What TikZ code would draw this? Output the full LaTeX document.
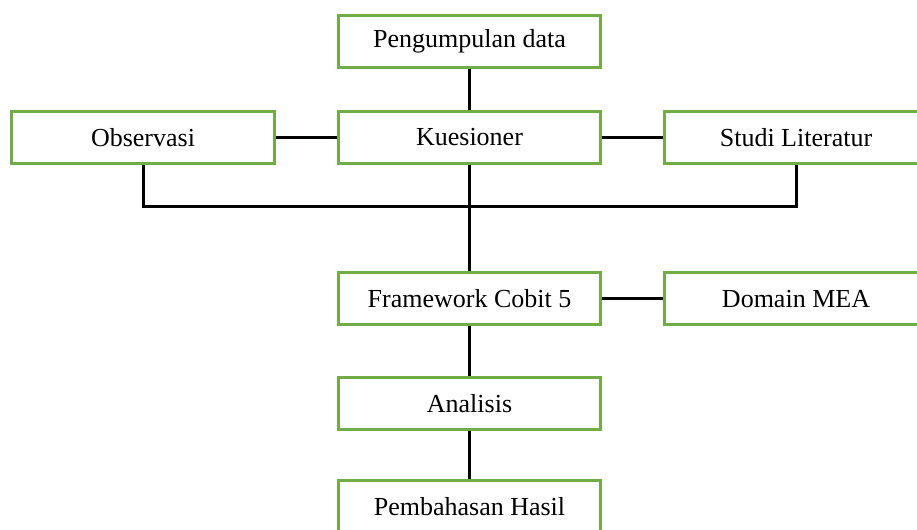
\documentclass[tikz,border=0pt]{standalone}
\usepackage{fontspec}
\setmainfont{Liberation Serif}
\usepackage{tikz}
\usepackage{xcolor}
\usetikzlibrary{calc, positioning}
\definecolor{kotakhijau}{RGB}{112,173,71}
\tikzset{
    kotak/.style={draw=kotakhijau, line width=2.25pt, minimum width=197pt, minimum height=39pt, inner sep=0pt, font=\fontsize{19.5}{23}\selectfont},
    garis/.style={line width=2.25pt, black}
}
\newcommand{\kotak}[4]{
    \node[kotak] (#1) at (#2, #3) {#4};
}

\begin{document}
\begin{tikzpicture}[x=0.75pt, y=-0.75pt]
                    \useasboundingbox (0, 0) rectangle (917, 530);
                    \clip (0, 0) rectangle (917, 530);
                    \kotak{pengumpulan}{469.5}{41.5}{Pengumpulan data}
                    \kotak{observasi}{143}{137.5}{Observasi}
                    \kotak{kuesioner}{469.5}{137.5}{Kuesioner}
                    \kotak{studi}{796}{137.5}{Studi Literatur}
                    \kotak{framework}{469.5}{299}{Framework Cobit 5}
                    \kotak{domain}{796}{299}{Domain MEA}
                    \kotak{analisis}{469.5}{403.5}{Analisis}
                    \kotak{pembahasan}{469.5}{507}{Pembahasan Hasil}
                    \coordinate (bus) at (469.5, 207);
                    \draw[garis]
                    (pengumpulan) -- (kuesioner)
                    (observasi) -- (kuesioner)
                    (kuesioner) -- (studi)
                    (observasi) |- (bus) -| (studi)
                    (kuesioner) -- (framework)
                    (framework) -- (domain)
                    (framework) -- (analisis)
                    (analisis) -- (pembahasan);
                \end{tikzpicture}
\end{document}
